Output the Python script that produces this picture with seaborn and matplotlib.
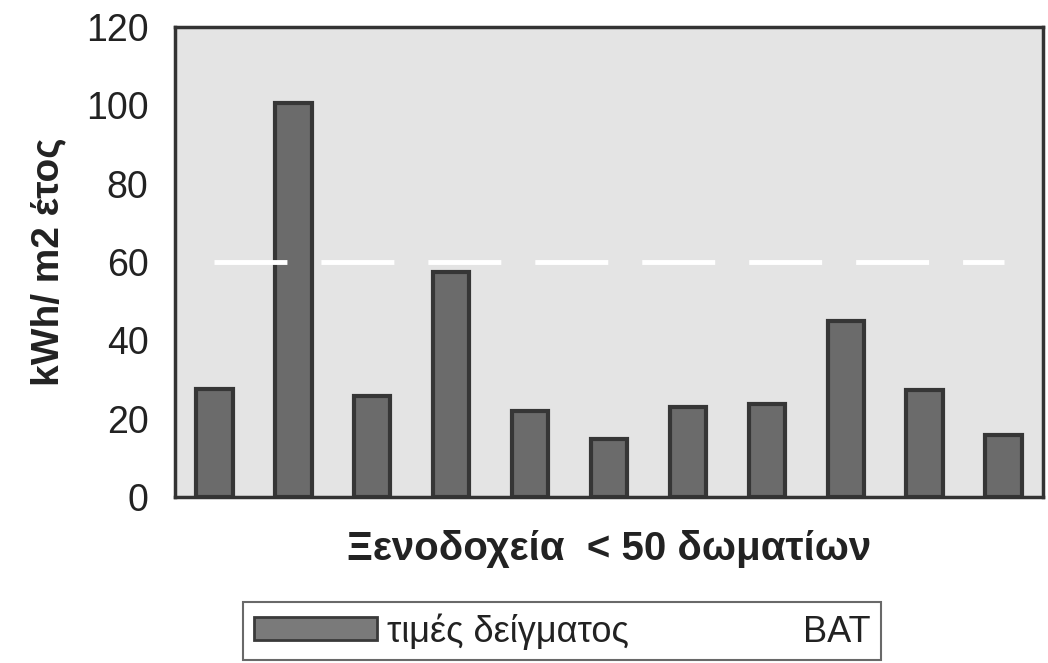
import matplotlib
matplotlib.use("Agg")
import matplotlib.pyplot as plt
import seaborn as sns
import pandas as pd
from matplotlib.lines import Line2D
from matplotlib.patches import Patch

# Energy use per hotel (< 50 rooms) and the BAT reference level
hotels = [f"H{i}" for i in range(1, 12)]
sample_values = [27.6, 100.5, 25.8, 57.4, 21.9, 14.8, 22.9, 23.7, 45.0, 27.3, 15.8]
bat_values = [60] * 11
y_ticks = [0, 20, 40, 60, 80, 100, 120]

df = pd.DataFrame({"hotel": hotels, "value": sample_values, "bat": bat_values})

sns.set_style("white")
plt.rcParams["font.family"] = ["Liberation Sans", "DejaVu Sans"]

fig = plt.figure(figsize=(10.48, 6.63), dpi=100)
ax = fig.add_axes([175 / 1048, 1 - 497 / 663, 868 / 1048, 470 / 663])
ax.set_facecolor("#e4e4e4")

sns.barplot(data=df, x="hotel", y="value", ax=ax, color="#6b6b6b",
            width=0.46, edgecolor="#363636", linewidth=3, saturation=1)
sns.lineplot(data=df, x="hotel", y="bat", ax=ax, color="white",
             linewidth=3.5, dashes=False, zorder=3)
ax.lines[-1].set_dashes((15, 7))

ax.set_ylim(0, 120)
ax.set_xlim(-0.5, len(hotels) - 0.5)
ax.set_yticks(y_ticks)
ax.set_xticks([])
ax.tick_params(axis="y", direction="inout", length=12, width=1.5,
               colors="#333333", labelsize=27, pad=13)
for lab in ax.get_yticklabels():
    lab.set_color("#222222")

for s in ax.spines.values():
    s.set_visible(True)
    s.set_color("#333333")
    s.set_linewidth(2.5)

ax.set_ylabel("kWh/ m2 έτος", fontsize=28, fontweight="bold",
              color="#222222", labelpad=14)
ax.set_xlabel("Ξενοδοχεία  < 50 δωματίων", fontsize=29, fontweight="bold",
              color="#222222", labelpad=24)

handles = [Patch(facecolor="#7a7a7a", edgecolor="#3a3a3a", linewidth=2),
           Line2D([0], [0], color="white", linewidth=3)]
leg = fig.legend(handles, ["τιμές δείγματος", "BAT"], ncol=2,
                 loc="lower center", bbox_to_anchor=(562 / 1048, 0.004),
                 borderaxespad=0, fontsize=26, frameon=True, fancybox=False,
                 handlelength=3.4, handleheight=0.6, handletextpad=0.3,
                 columnspacing=1.1, borderpad=0.3, labelcolor="#222222")
leg.get_frame().set_edgecolor("#444444")
leg.get_frame().set_linewidth(1.5)

fig.savefig("out.png", dpi=100)
